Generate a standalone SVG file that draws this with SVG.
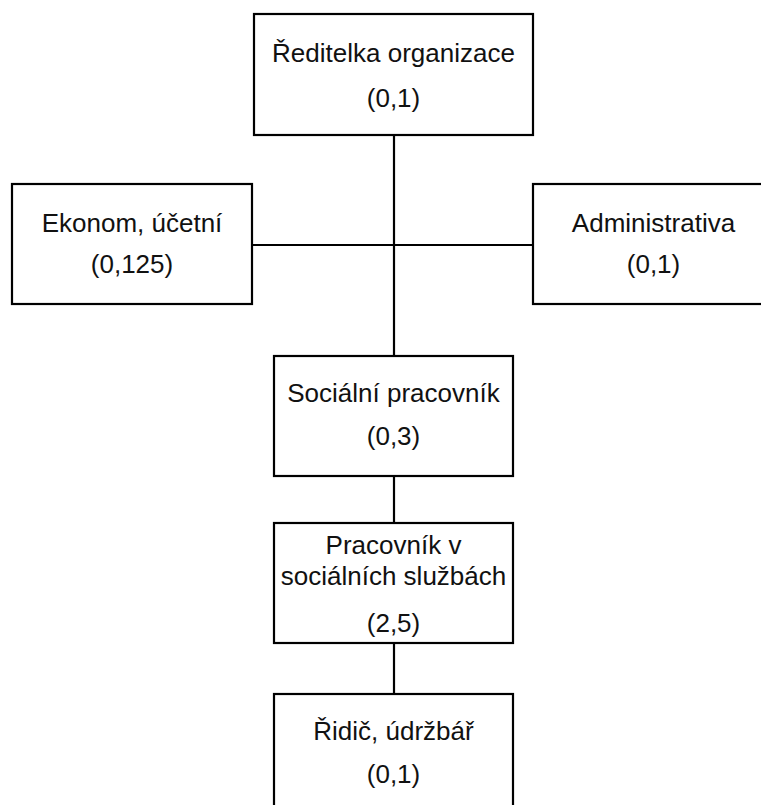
<svg xmlns="http://www.w3.org/2000/svg" width="761" height="805" viewBox="0 0 761 805">
<style>
.box{fill:#ffffff;stroke:#000000;stroke-width:2.2}
.ln{stroke:#000000;stroke-width:2.2;fill:none}
text{font-family:"Liberation Sans",Arial,sans-serif;font-size:26px;fill:#111111;text-anchor:middle}
</style>
<rect width="761" height="805" fill="#ffffff"/>
<g id="connectors">
<line class="ln" x1="394" y1="135" x2="394" y2="356"/>
<line class="ln" x1="252" y1="245" x2="533" y2="245"/>
<line class="ln" x1="394" y1="476" x2="394" y2="523"/>
<line class="ln" x1="394" y1="643" x2="394" y2="694"/>
</g>
<g id="reditelka">
<rect class="box" x="254" y="14" width="279" height="121"/>
<text x="393.5" y="62">Ředitelka organizace</text>
<text x="393.5" y="107">(0,1)</text>
</g>
<g id="ekonom">
<rect class="box" x="12" y="184" width="240" height="120"/>
<text x="132" y="232">Ekonom, účetní</text>
<text x="132" y="273">(0,125)</text>
</g>
<g id="administrativa">
<rect class="box" x="533" y="184" width="241" height="120"/>
<text x="653.5" y="232">Administrativa</text>
<text x="653.5" y="273">(0,1)</text>
</g>
<g id="socialni">
<rect class="box" x="274" y="356" width="239" height="120"/>
<text x="393.5" y="402">Sociální pracovník</text>
<text x="393.5" y="445">(0,3)</text>
</g>
<g id="pracovnik">
<rect class="box" x="274" y="523" width="239" height="120"/>
<text x="393.5" y="554">Pracovník v</text>
<text x="393.5" y="585">sociálních službách</text>
<text x="393.5" y="632">(2,5)</text>
</g>
<g id="ridic">
<rect class="box" x="274" y="694" width="239" height="130"/>
<text x="393.5" y="740">Řidič, údržbář</text>
<text x="393.5" y="783">(0,1)</text>
</g>
</svg>
